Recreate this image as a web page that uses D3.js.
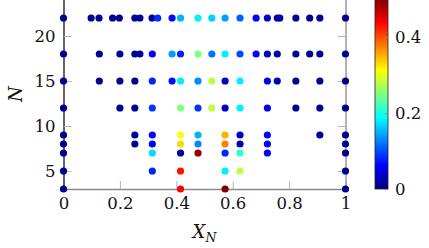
<!DOCTYPE html>
<html>
<head>
<meta charset="utf-8">
<script src="https://cdn.jsdelivr.net/npm/d3@7"></script>
<style>
  body { margin: 0; background: #fff; }
</style>
</head>
<body>
<svg id="chart" width="429" height="248"></svg>
<script>
// rows of N, with X_N positions and the error value (colour) of each point
const rowN = [22, 18, 15, 12, 9, 8, 7, 5, 3];
const rowX = [
  [0, 0.098, 0.126, 0.174, 0.198, 0.253, 0.271, 0.314, 0.334, 0.385, 0.415, 0.477, 0.526, 0.573, 0.626, 0.683, 0.723, 0.758, 0.767, 0.824, 0.873, 0.909, 1],
  [0, 0.127, 0.2, 0.253, 0.271, 0.315, 0.385, 0.415, 0.477, 0.526, 0.573, 0.626, 0.683, 0.723, 0.758, 0.824, 0.873, 0.909, 1],
  [0, 0.127, 0.2, 0.253, 0.315, 0.385, 0.415, 0.477, 0.526, 0.573, 0.626, 0.723, 0.758, 0.824, 0.909, 1],
  [0, 0.2, 0.253, 0.315, 0.415, 0.477, 0.526, 0.573, 0.626, 0.723, 0.824, 0.909, 1],
  [0, 0.253, 0.315, 0.415, 0.477, 0.573, 0.626, 0.723, 0.909, 1],
  [0, 0.253, 0.315, 0.415, 0.477, 0.573, 0.626, 0.723, 1],
  [0, 0.315, 0.415, 0.477, 0.573, 0.626, 0.723, 1],
  [0, 0.315, 0.415, 0.573, 0.626, 1],
  [0, 0.415, 0.573, 1]
];
const rowV = [
  [0.005, 0.008, 0.008, 0.008, 0.008, 0.01, 0.01, 0.012, 0.085, 0.065, 0.15, 0.18, 0.165, 0.14, 0.11, 0.065, 0.035, 0.02, 0.02, 0.012, 0.012, 0.01, 0.005],
  [0.005, 0.008, 0.01, 0.01, 0.01, 0.065, 0.14, 0.08, 0.25, 0.12, 0.18, 0.1, 0.065, 0.03, 0.02, 0.012, 0.012, 0.01, 0.005],
  [0.005, 0.008, 0.01, 0.01, 0.08, 0.07, 0.18, 0.13, 0.28, 0.03, 0.18, 0.06, 0.02, 0.012, 0.01, 0.005],
  [0.005, 0.01, 0.01, 0.09, 0.25, 0.09, 0.28, 0.04, 0.18, 0.06, 0.012, 0.01, 0.005],
  [0.005, 0.012, 0.065, 0.31, 0.15, 0.35, 0.03, 0.065, 0.01, 0.005],
  [0.005, 0.012, 0.065, 0.33, 0.13, 0.375, 0.02, 0.065, 0.005],
  [0.005, 0.17, 0.01, 0.49, 0.08, 0.21, 0.065, 0.005],
  [0.005, 0.08, 0.43, 0.18, 0.28, 0.005],
  [0.005, 0.44, 0.5, 0.005]
];
const xTicks = [0, 0.2, 0.4, 0.6, 0.8, 1];
const yTicks = [5, 10, 15, 20];
const cTicks = [0, 0.2, 0.4];

const plotL = 63.5, plotR = 345.5, plotT = -1, plotB = 189;
const barX = 375, barW = 13;
const serif = 'DejaVu Serif';
const tickFont = 16.5;

const svg = d3.select('#chart');

const x = d3.scaleLinear().domain([0, 1]).range([plotL, plotR]);
const y = d3.scaleLinear().domain([3, 24.11]).range([plotB, plotT]);
const cval = d3.scaleLinear().domain([0, 0.5]).range([plotB, plotT]);

// pgfplots "jet"
const jetStops = [0, 1 / 8, 3 / 8, 5 / 8, 7 / 8, 1];
const jetCols = ['#000080', '#0000ff', '#00ffff', '#ffff00', '#ff0000', '#800000'];
const color = d3.scaleLinear()
  .domain(jetStops.map(t => t * 0.5))
  .range(jetCols)
  .clamp(true);

// flatten rows into points
const points = [];
rowN.forEach((n, i) => {
  rowX[i].forEach((xv, j) => points.push({ n: n, x: xv, v: rowV[i][j] }));
});

// axes
const fmt = d3.format('~g');

const gx = svg.append('g')
  .attr('transform', 'translate(0,' + plotB + ')')
  .call(d3.axisBottom(x).tickValues(xTicks).tickFormat(fmt)
    .tickSizeInner(-8).tickSizeOuter(0).tickPadding(8));

const gy = svg.append('g')
  .attr('transform', 'translate(' + plotL + ',0)')
  .call(d3.axisLeft(y).tickValues(yTicks)
    .tickSizeInner(-8).tickSizeOuter(0).tickPadding(8));

const gr = svg.append('g')
  .attr('transform', 'translate(' + plotR + ',0)')
  .call(d3.axisRight(y).tickValues(yTicks).tickFormat('')
    .tickSizeInner(-8).tickSizeOuter(0));

[gx, gy, gr].forEach(g => {
  g.attr('font-family', serif).attr('font-size', tickFont);
  g.selectAll('.tick line').attr('stroke', '#b4b4b4').attr('stroke-width', 1);
  g.selectAll('.tick text').attr('fill', '#111');
});
gx.select('.domain').attr('stroke', '#8a8a8a').attr('stroke-width', 1.3);
gr.select('.domain').attr('stroke', '#8a8a8a').attr('stroke-width', 1.3);
gy.select('.domain').attr('stroke', '#111').attr('stroke-width', 1.3);

// points
svg.append('g')
  .selectAll('circle')
  .data(points)
  .enter().append('circle')
  .attr('cx', d => x(d.x))
  .attr('cy', d => y(d.n))
  .attr('r', 3.6)
  .attr('fill', d => color(d.v));

// colorbar
const defs = svg.append('defs');
const grad = defs.append('linearGradient')
  .attr('id', 'jet')
  .attr('x1', 0).attr('y1', 1).attr('x2', 0).attr('y2', 0);
grad.selectAll('stop')
  .data(jetStops)
  .enter().append('stop')
  .attr('offset', d => d)
  .attr('stop-color', (d, i) => jetCols[i]);

svg.append('rect')
  .attr('x', barX).attr('y', plotT)
  .attr('width', barW).attr('height', plotB - plotT)
  .attr('fill', 'url(#jet)')
  .attr('stroke', '#222').attr('stroke-width', 0.8);

const gc = svg.append('g')
  .attr('transform', 'translate(' + (barX + barW) + ',0)')
  .call(d3.axisRight(cval).tickValues(cTicks).tickFormat(fmt)
    .tickSizeInner(-3).tickSizeOuter(0).tickPadding(7));
gc.attr('font-family', serif).attr('font-size', tickFont);
gc.select('.domain').remove();
gc.selectAll('.tick line').attr('stroke', '#888');
gc.selectAll('.tick text').attr('fill', '#111').attr('dy', '0.33em');

// axis titles
const xl = svg.append('text')
  .attr('x', (plotL + plotR) / 2)
  .attr('y', 238)
  .attr('text-anchor', 'middle')
  .attr('font-family', serif)
  .attr('font-size', 18)
  .attr('font-style', 'italic')
  .attr('fill', '#111');
xl.append('tspan').text('X');
xl.append('tspan').attr('dy', 4).attr('font-size', 12.5).text('N');

svg.append('text')
  .attr('transform', 'translate(22,' + ((plotT + plotB) / 2) + ') rotate(-90)')
  .attr('text-anchor', 'middle')
  .attr('font-family', serif)
  .attr('font-size', 18)
  .attr('font-style', 'italic')
  .attr('fill', '#111')
  .text('N');
</script>
</body>
</html>
